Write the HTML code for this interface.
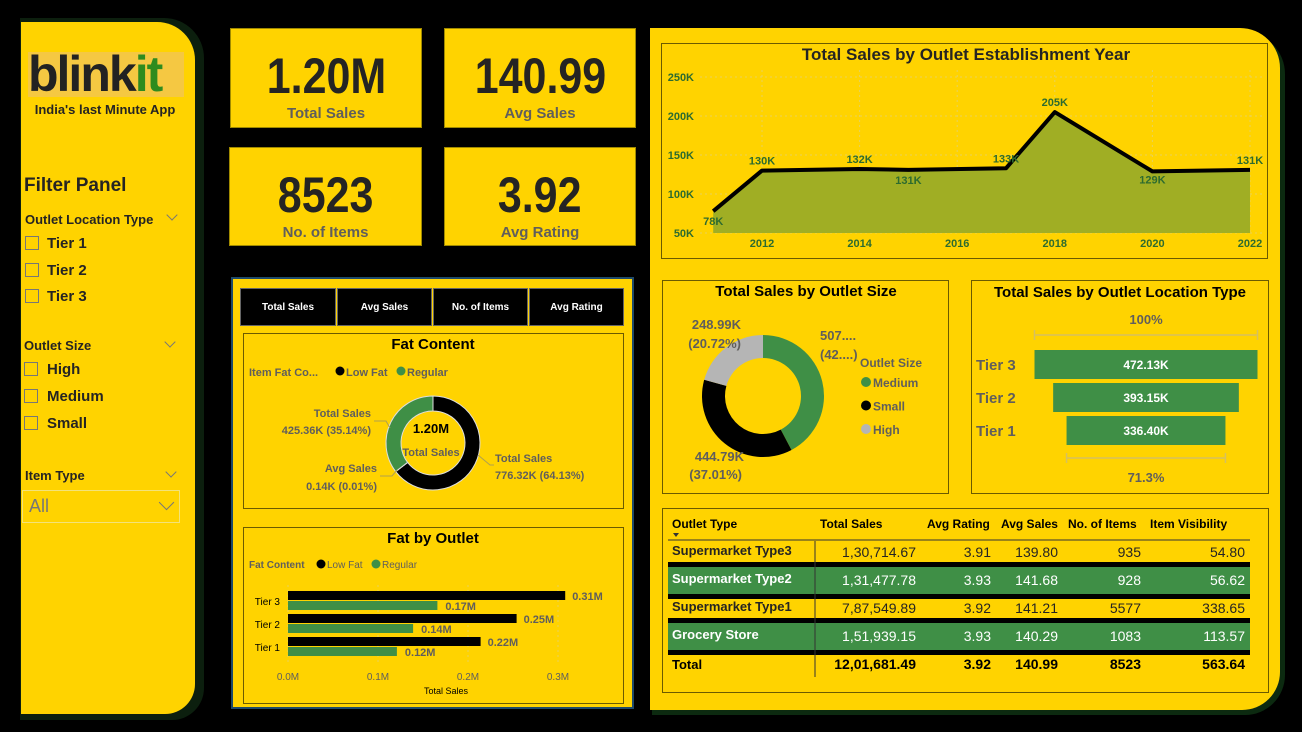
<!DOCTYPE html>
<html><head><meta charset="utf-8">
<style>
*{box-sizing:border-box;margin:0;padding:0}
body{width:1302px;height:732px;background:#000;position:relative;overflow:hidden;font-family:"Liberation Sans Narrow","Liberation Sans",sans-serif;color:#252423}
.abs{position:absolute}
.y{background:#FFD300}
.card{position:absolute;background:#FFD300;border:1px solid #a08a00;text-align:center}
.big{display:inline-block;font-weight:bold;font-size:50px;line-height:50px;margin-top:22px;color:#252423;transform:scaleX(0.86)}
.lbl{font-weight:bold;font-size:15px;color:#605E5C;margin-top:4px}
.cb{position:absolute;width:14px;height:14px;border:1px solid #777}
.ft{position:absolute;font-weight:bold;font-size:15px}
.hd{position:absolute;font-weight:bold;font-size:13px}
.chev{position:absolute;width:8px;height:8px;border-right:1px solid #777;border-bottom:1px solid #777;transform:rotate(45deg)}
.btn{position:absolute;top:288px;height:38px;background:#000;border:1px solid #666;color:#fff;font-weight:bold;font-size:10px;text-align:center;line-height:38px}
.box{position:absolute;border:1px solid #6b5b00}
svg text{font-family:"Liberation Sans Narrow","Liberation Sans",sans-serif}
</style></head><body>
<div class="abs" style="left:20px;top:18px;width:184px;height:702px;background:#0c1f0e;border-radius:0 40px 32px 0"></div>
<div class="abs y" style="left:21px;top:22px;width:174px;height:692px;border-radius:0 38px 30px 0"></div>
<div class="abs" style="left:28px;top:52px;width:156px;height:45px;background:#F5C842;font-weight:bold;font-size:50px;line-height:45px;letter-spacing:-2px;font-family:'Liberation Sans',sans-serif;color:#222">blink<span style="color:#2E8B1E">it</span></div>
<div class="abs" style="left:22px;top:102px;width:166px;text-align:center;font-weight:bold;font-size:13px">India's last Minute App</div>
<div class="abs" style="left:24px;top:175px;font-weight:bold;font-size:19px">Filter Panel</div>
<div class="hd" style="left:25px;top:212px">Outlet Location Type</div>
<div class="chev" style="left:168px;top:211px"></div>
<div class="cb" style="left:25px;top:236px"></div><div class="ft" style="left:47px;top:235px">Tier 1</div>
<div class="cb" style="left:25px;top:263px"></div><div class="ft" style="left:47px;top:262px">Tier 2</div>
<div class="cb" style="left:25px;top:289px"></div><div class="ft" style="left:47px;top:288px">Tier 3</div>
<div class="hd" style="left:24px;top:338px">Outlet Size</div>
<div class="chev" style="left:166px;top:338px"></div>
<div class="cb" style="left:24px;top:362px"></div><div class="ft" style="left:47px;top:361px">High</div>
<div class="cb" style="left:24px;top:389px"></div><div class="ft" style="left:47px;top:388px">Medium</div>
<div class="cb" style="left:24px;top:416px"></div><div class="ft" style="left:47px;top:415px">Small</div>
<div class="hd" style="left:25px;top:468px">Item Type</div>
<div class="chev" style="left:167px;top:468px"></div>
<div class="abs" style="left:22px;top:490px;width:158px;height:33px;border:1px solid #f3e27a;color:#777;font-size:18px;line-height:31px;padding-left:6px;font-family:'Liberation Sans',sans-serif">All<div class="chev" style="left:138px;top:6px;width:11px;height:11px"></div></div>

<div class="card" style="left:230px;top:28px;width:192px;height:100px"><div class="big">1.20M</div><div class="lbl">Total Sales</div></div>
<div class="card" style="left:444px;top:28px;width:192px;height:100px"><div class="big">140.99</div><div class="lbl">Avg Sales</div></div>
<div class="card" style="left:229px;top:147px;width:193px;height:99px"><div class="big">8523</div><div class="lbl">No. of Items</div></div>
<div class="card" style="left:444px;top:147px;width:192px;height:99px"><div class="big">3.92</div><div class="lbl">Avg Rating</div></div>

<div class="abs y" style="left:231px;top:277px;width:403px;height:432px;border:2px solid #1e4a6a"></div>
<div class="btn" style="left:240px;width:96px">Total Sales</div>
<div class="btn" style="left:337px;width:95px">Avg Sales</div>
<div class="btn" style="left:433px;width:95px">No. of Items</div>
<div class="btn" style="left:529px;width:95px">Avg Rating</div>
<div class="box" style="left:243px;top:333px;width:381px;height:176px"></div>
<div class="box" style="left:243px;top:527px;width:381px;height:177px"></div>

<div class="abs" style="left:652px;top:32px;width:633px;height:683px;background:#0c2a10;border-radius:0 42px 40px 0"></div>
<div class="abs y" style="left:650px;top:28px;width:630px;height:682px;border-radius:0 40px 38px 0"></div>
<div class="box" style="left:661px;top:43px;width:607px;height:216px"></div>
<div class="box" style="left:662px;top:280px;width:287px;height:214px"></div>
<div class="box" style="left:971px;top:280px;width:298px;height:214px"></div>
<div class="box" style="left:662px;top:508px;width:607px;height:185px"></div>

<svg id="charts" class="abs" style="left:0;top:0" width="1302" height="732"></svg>

<script>
// Line chart data
const years=[2011,2012,2014,2015,2017,2018,2020,2022];
const yearSales=[78,130,132,131,133,205,129,131];
const yearLabels=['78K','130K','132K','131K','133K','205K','129K','131K'];
const yTicks=[50,100,150,200,250];
const xTicks=[2012,2014,2016,2018,2020,2022];
// Fat content donut
const fatCats=['Low Fat','Avg Sales','Regular'];
const fatVals=[64.13,0.01,35.14];
// Fat by outlet bars
const tiers=['Tier 3','Tier 2','Tier 1'];
const lowFat=[0.308,0.254,0.214];
const regular=[0.166,0.139,0.121];
const lowFatLabels=['0.31M','0.25M','0.22M'];
const regularLabels=['0.17M','0.14M','0.12M'];
const barTicks=[0,0.1,0.2,0.3];
// Outlet size donut
const sizeCats=['Medium','Small','High'];
const sizeVals=[42.27,37.01,20.72];
// Funnel
const funnelTiers=['Tier 3','Tier 2','Tier 1'];
const funnelVals=[472.13,393.15,336.40];
// Table
const tableHeads=['Outlet Type','Total Sales','Avg Rating','Avg Sales','No. of Items','Item Visibility'];
const outletTypes=['Supermarket Type3','Supermarket Type2','Supermarket Type1','Grocery Store'];
const tSales=['1,30,714.67','1,31,477.78','7,87,549.89','1,51,939.15'];
const tRating=['3.91','3.93','3.92','3.93'];
const tAvg=['139.80','141.68','141.21','140.29'];
const tItems=['935','928','5577','1083'];
const tVis=['54.80','56.62','338.65','113.57'];
const totals=['Total','12,01,681.49','3.92','140.99','8523','563.64'];

const NS='http://www.w3.org/2000/svg';
const svg=document.getElementById('charts');
function el(tag,attrs,parent){const e=document.createElementNS(NS,tag);for(const k in attrs)e.setAttribute(k,attrs[k]);(parent||svg).appendChild(e);return e;}
function txt(x,y,s,attrs,name){const t=el('text',Object.assign({x:x,y:y},attrs));t.textContent=s;


return t;}
const GREEN='#3F8F46', DG='#2D6B2F';

// ---- Line chart
txt(966,60,'Total Sales by Outlet Establishment Year',{'font-size':17,'font-weight':'bold','text-anchor':'middle',fill:'#252423'},'line-chart-title');
const lx=y=>762+(y-2012)*48.8;
const ly=v=>233-(v-50)*156/200;
yTicks.forEach(t=>{
 const g=el('line',{x1:700,x2:1262,y1:ly(t),y2:ly(t),stroke:'#e8d25a','stroke-dasharray':'2,3'});
 
 
 txt(694,ly(t)+4,t+'K',{'font-size':11,'font-weight':'bold','text-anchor':'end',fill:DG},'y-tick-label');
});
xTicks.forEach(t=>{
 const g=el('line',{x1:lx(t),x2:lx(t),y1:70,y2:233,stroke:'#e8d25a','stroke-dasharray':'2,3'});
 
 
 txt(lx(t),247,String(t),{'font-size':11,'font-weight':'bold','text-anchor':'middle',fill:DG},'x-tick-label');
});
let ap='M'+lx(years[0])+','+ly(50);
years.forEach((y,i)=>ap+=' L'+lx(y)+','+ly(yearSales[i]));
ap+=' L'+lx(years[years.length-1])+','+ly(50)+' Z';
const area=el('path',{d:ap,fill:'#A0AE24'});


const line=el('polyline',{points:years.map((y,i)=>lx(y)+','+ly(yearSales[i])).join(' '),fill:'none',stroke:'#000','stroke-width':4,'stroke-linejoin':'round'});


const lblOff=[14,-6,-6,14,-6,-6,12,-6];
years.forEach((y,i)=>txt(lx(y),ly(yearSales[i])+lblOff[i],yearLabels[i],{'font-size':11,'font-weight':'bold','text-anchor':'middle',fill:DG},'point-label'));

// ---- donut helper
function donut(cx,cy,ro,ri,vals,colors,name,gap){
 const tot=vals.reduce((a,b)=>a+b,0);let a0=-Math.PI/2;
 vals.forEach((v,i)=>{const a1=a0+v/tot*2*Math.PI;const big=(a1-a0)>Math.PI?1:0;
  const p=(r,a)=>(cx+r*Math.cos(a))+','+(cy+r*Math.sin(a));
  const d='M'+p(ro,a0)+' A'+ro+','+ro+' 0 '+big+' 1 '+p(ro,a1)+' L'+p(ri,a1)+' A'+ri+','+ri+' 0 '+big+' 0 '+p(ri,a0)+' Z';
  const s=el('path',{d:d,fill:colors[i],stroke:gap||'none','stroke-width':1});
  
  
  a0=a1;});
}
// ---- Fat content
txt(433,349,'Fat Content',{'font-size':15,'font-weight':'bold','text-anchor':'middle'},'fat-content-title');
txt(249,376,'Item Fat Co...',{'font-size':11,'font-weight':'bold',fill:'#605E5C'},'fat-legend-title');
el('circle',{cx:340,cy:371,r:4.5,fill:'#000'});
txt(346,376,'Low Fat',{'font-size':11,'font-weight':'bold',fill:'#605E5C'},'legend-low-fat');
el('circle',{cx:401,cy:371,r:4.5,fill:GREEN});
txt(407,376,'Regular',{'font-size':11,'font-weight':'bold',fill:'#605E5C'},'legend-regular');
donut(433,443,47,32,fatVals,['#000','#ccc',GREEN],'fat','#ddd');
txt(431,433,'1.20M',{'font-size':13,'font-weight':'bold','text-anchor':'middle'},'fat-center-value');
txt(431,456,'Total Sales',{'font-size':11,'font-weight':'bold','text-anchor':'middle',fill:'#605E5C'},'fat-center-label');
txt(371,417,'Total Sales',{'font-size':11,'font-weight':'bold','text-anchor':'end',fill:'#605E5C'},'regular-label');
txt(371,434,'425.36K (35.14%)',{'font-size':11,'font-weight':'bold','text-anchor':'end',fill:'#605E5C'},'regular-value');
txt(377,472,'Avg Sales',{'font-size':11,'font-weight':'bold','text-anchor':'end',fill:'#605E5C'},'avg-label');
txt(377,490,'0.14K (0.01%)',{'font-size':11,'font-weight':'bold','text-anchor':'end',fill:'#605E5C'},'avg-value');
txt(495,462,'Total Sales',{'font-size':11,'font-weight':'bold',fill:'#605E5C'},'lowfat-label');
txt(495,479,'776.32K (64.13%)',{'font-size':11,'font-weight':'bold',fill:'#605E5C'},'lowfat-value');
el('polyline',{points:'374,421 386,421 390,428',fill:'none',stroke:'#b0a050'});
el('polyline',{points:'380,476 392,476 397,470',fill:'none',stroke:'#b0a050'});
el('polyline',{points:'478,455 490,465 494,465',fill:'none',stroke:'#b0a050'});

// ---- Fat by outlet
txt(433,543,'Fat by Outlet',{'font-size':15,'font-weight':'bold','text-anchor':'middle'},'fat-by-outlet-title');
txt(249,568,'Fat Content',{'font-size':10,'font-weight':'bold',fill:'#605E5C'},'bar-legend-title');
el('circle',{cx:321,cy:564,r:4.5,fill:'#000'});
txt(327,568,'Low Fat',{'font-size':10,fill:'#605E5C'},'bar-legend-low-fat');
el('circle',{cx:376,cy:564,r:4.5,fill:GREEN});
txt(382,568,'Regular',{'font-size':10,fill:'#605E5C'},'bar-legend-regular');
const bx=v=>288+v*900;
barTicks.forEach(t=>{
 const g=el('line',{x1:bx(t),x2:bx(t),y1:585,y2:662,stroke:'#e8d25a','stroke-dasharray':'2,3'});
 
 
 txt(bx(t),680,t.toFixed(1)+'M',{'font-size':10,'text-anchor':'middle',fill:'#605E5C'},'bar-x-tick');
});
txt(446,694,'Total Sales',{'font-size':9,'text-anchor':'middle'},'bar-x-axis-title');
tiers.forEach((t,i)=>{
 const y0=591+i*23;
 txt(280,y0+14,t,{'font-size':10,'text-anchor':'end'},'bar-tier-label');
 const b1=el('rect',{x:bx(0),y:y0,width:bx(lowFat[i])-bx(0),height:9,fill:'#000'});
 
 
 const b2=el('rect',{x:bx(0),y:y0+10,width:bx(regular[i])-bx(0),height:9,fill:GREEN});
 
 
 txt(bx(lowFat[i])+7,y0+9,lowFatLabels[i],{'font-size':11,'font-weight':'bold',fill:'#605E5C'},'bar-low-fat-label');
 txt(bx(regular[i])+8,y0+19,regularLabels[i],{'font-size':11,'font-weight':'bold',fill:'#605E5C'},'bar-regular-label');
});

// ---- Outlet size
txt(806,296,'Total Sales by Outlet Size',{'font-size':15,'font-weight':'bold','text-anchor':'middle'},'outlet-size-title');
donut(763,396,61,38,sizeVals,[GREEN,'#000','#B5B5B5'],'size');
txt(820,340,'507....',{'font-size':13,'font-weight':'bold',fill:'#605E5C'},'medium-label');
txt(820,359,'(42....)',{'font-size':13,'font-weight':'bold',fill:'#605E5C'},'medium-pct');
txt(741,329,'248.99K',{'font-size':13,'font-weight':'bold','text-anchor':'end',fill:'#605E5C'},'high-label');
txt(741,348,'(20.72%)',{'font-size':13,'font-weight':'bold','text-anchor':'end',fill:'#605E5C'},'high-pct');
txt(744,461,'444.79K',{'font-size':13,'font-weight':'bold','text-anchor':'end',fill:'#605E5C'},'small-label');
txt(742,479,'(37.01%)',{'font-size':13,'font-weight':'bold','text-anchor':'end',fill:'#605E5C'},'small-pct');
txt(860,367,'Outlet Size',{'font-size':12,'font-weight':'bold',fill:'#605E5C'},'size-legend-title');
sizeCats.forEach((c,i)=>{
 el('circle',{cx:866,cy:382+i*23.5,r:5,fill:[GREEN,'#000','#B5B5B5'][i]});
 txt(873,387+i*23.5,c,{'font-size':12,'font-weight':'bold',fill:'#605E5C'},'size-legend-entry');
});

// ---- Funnel
txt(1120,297,'Total Sales by Outlet Location Type',{'font-size':15,'font-weight':'bold','text-anchor':'middle'},'location-title');
const fMax=Math.max(...funnelVals), fW=223, fcx=1146;
txt(fcx,324,'100%',{'font-size':13,'font-weight':'bold','text-anchor':'middle',fill:'#605E5C'},'funnel-top-pct');
el('path',{d:`M${fcx-fW/2},335 H${fcx+fW/2} M${fcx-fW/2},330 V340 M${fcx+fW/2},330 V340`,stroke:'#d6c060','stroke-width':1.5,fill:'none'});
funnelTiers.forEach((t,i)=>{
 const w=funnelVals[i]/fMax*fW, y0=350+i*33;
 const r=el('rect',{x:fcx-w/2,y:y0,width:w,height:29,fill:GREEN});
 
 
 txt(fcx,y0+19,funnelVals[i].toFixed(2)+'K',{'font-size':12,'font-weight':'bold','text-anchor':'middle',fill:'#fff'},'funnel-value');
 txt(976,y0+20,t,{'font-size':15,'font-weight':'bold',fill:'#605E5C'},'funnel-tier-label');
});
const lw=funnelVals[2]/fMax*fW;
el('path',{d:`M${fcx-lw/2},458 H${fcx+lw/2} M${fcx-lw/2},453 V463 M${fcx+lw/2},453 V463`,stroke:'#d6c060','stroke-width':1.5,fill:'none'});
txt(fcx,482,(funnelVals[2]/fMax*100).toFixed(1)+'%',{'font-size':13,'font-weight':'bold','text-anchor':'middle',fill:'#605E5C'},'funnel-bottom-pct');

// ---- Table
const colX=[672,916,991,1058,1141,1245];
tableHeads.forEach((h,i)=>txt(i==0?672:[0,820,927,1001,1068,1150][i],528,h,{'font-size':12,'font-weight':'bold'},'table-header'));
el('path',{d:'M673,533 l3,4 l3,-4 z',fill:'#333'});
el('line',{x1:668,x2:1250,y1:540,y2:540,stroke:'#333'});
outletTypes.forEach((o,i)=>{
 const cy=551+i*28;
 if(i%2==1){
  el('rect',{x:668,y:cy-17,width:582,height:5,fill:'#000'});
  const rr=el('rect',{x:668,y:cy-12,width:582,height:27,fill:GREEN});
  
  
  el('rect',{x:668,y:cy+15,width:582,height:5,fill:'#000'});
 }
 const c=i%2==1?'#fff':'#252423';
 txt(672,cy+4,o,{'font-size':13,'font-weight':'bold',fill:c},'table-outlet-type');
 [tSales,tRating,tAvg,tItems,tVis].forEach((arr,j)=>txt(colX[j+1],cy+6,arr[i],{'font-size':14,'text-anchor':'end',fill:c},'table-cell'));
});
el('line',{x1:815,x2:815,y1:541,y2:677,stroke:'#333'});
totals.forEach((t,j)=>txt(colX[j],669,t,{'font-size':j==0?13:14,'font-weight':'bold','text-anchor':j==0?'start':'end'},'table-total'));
</script>
</body></html>
